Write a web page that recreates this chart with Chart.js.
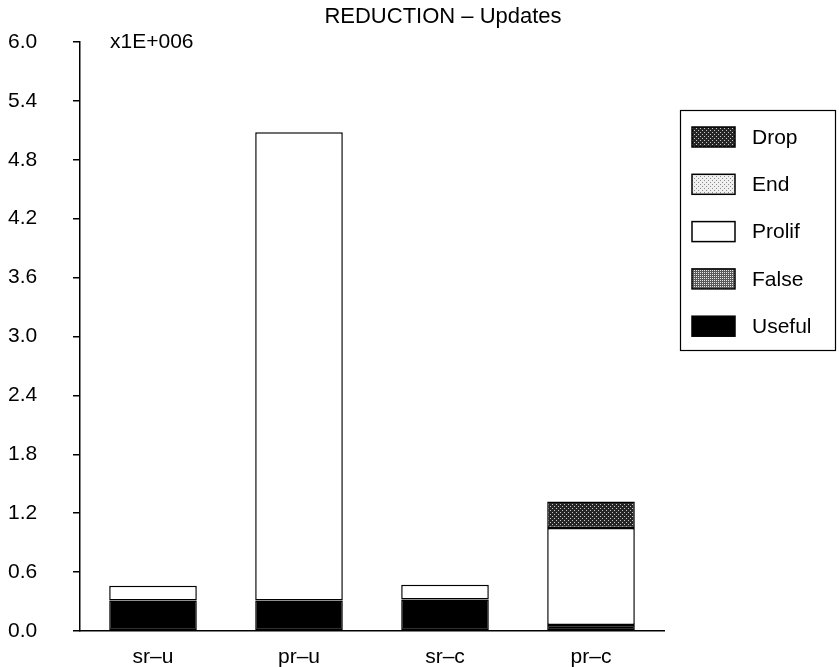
<!DOCTYPE html>
<html>
<head>
<meta charset="utf-8">
<script src="https://cdn.jsdelivr.net/npm/chart.js@4/dist/chart.umd.min.js"></script>
<style>
  html, body { margin: 0; padding: 0; background: #fff; }
  #wrap { width: 839px; height: 667px; }
</style>
</head>
<body>
<div id="wrap"><canvas id="c" width="839" height="667"></canvas></div>
<script>
// Update counts per configuration, in millions (axis multiplier x1E+006)
const categories = ['sr\u2013u', 'pr\u2013u', 'sr\u2013c', 'pr\u2013c'];
const useful = [0.31, 0.31, 0.32, 0.06];
const falseUpd = [0, 0, 0, 0];
const prolif = [0.15, 4.77, 0.15, 0.99];
const endUpd = [0, 0, 0, 0];
const drop = [0, 0, 0, 0.27];
const yTicks = [0.0, 0.6, 1.2, 1.8, 2.4, 3.0, 3.6, 4.2, 4.8, 5.4, 6.0];
const titleText = 'REDUCTION \u2013 Updates';
const multiplierText = 'x1E+006';

const FONT = '"Liberation Sans", Arial, Helvetica, sans-serif';

// Small dotted fills for the shaded categories
function stipple(bg, dot, positions) {
  const c = document.createElement('canvas');
  c.width = 4; c.height = 4;
  const g = c.getContext('2d');
  g.fillStyle = bg; g.fillRect(0, 0, 4, 4);
  g.fillStyle = dot;
  positions.forEach(([x, y]) => g.fillRect(x, y, 1, 1));
  return g.createPattern(c, 'repeat');
}
const ctx0 = document.getElementById('c').getContext('2d');
const dropFill = stipple('#262626', '#c8c8c8', [[0, 0], [2, 2]]);
const endFill = stipple('#f0f0f0', '#8a8a8a', [[0, 0], [2, 2]]);
const falseFill = stipple('#5a5a5a', '#e8e8e8', [[0, 0], [2, 2], [2, 0], [0, 2]]);

const datasets = [
  { label: 'Useful', data: useful, backgroundColor: '#000000' },
  { label: 'False', data: falseUpd, backgroundColor: falseFill },
  { label: 'Prolif', data: prolif, backgroundColor: '#ffffff' },
  { label: 'End', data: endUpd, backgroundColor: endFill },
  { label: 'Drop', data: drop, backgroundColor: dropFill }
].map(d => Object.assign(d, {
  borderColor: '#000',
  borderWidth: c => (c.raw === 0 ? 0 : 1.5),
  borderSkipped: false,
  barPercentage: 0.6, categoryPercentage: 1.0
}));

// Title, multiplier note and boxed legend
const decorations = {
  id: 'decorations',
  afterDraw(chart) {
    const ctx = chart.ctx;
    ctx.save();
    ctx.fillStyle = '#000';
    ctx.textBaseline = 'middle';
    ctx.font = '22px ' + FONT;
    ctx.textAlign = 'center';
    ctx.fillText(titleText, 443, 17);
    ctx.font = '21px ' + FONT;
    ctx.textAlign = 'left';
    ctx.fillText(multiplierText, 110, 42);

    // legend box
    const bx = 680, by = 110, bw = 155, bh = 240;
    ctx.lineWidth = 1.2;
    ctx.strokeStyle = '#000';
    ctx.strokeRect(bx + 0.5, by + 0.5, bw, bh);
    const items = chart.data.datasets.slice().reverse();
    items.forEach((ds, i) => {
      const cy = 137 + i * 47.3;
      ctx.fillStyle = ds.backgroundColor;
      ctx.fillRect(692, cy - 10, 43, 20);
      ctx.lineWidth = 1.5;
      ctx.strokeRect(692, cy - 10, 43, 20);
      ctx.fillStyle = '#000';
      ctx.font = '21px ' + FONT;
      ctx.fillText(ds.label, 752, cy + 1);
    });
    ctx.restore();
  }
};

new Chart(ctx0, {
  type: 'bar',
  data: { labels: categories, datasets },
  options: {
    responsive: false,
    animation: false,
    devicePixelRatio: 1,
    layout: { padding: { left: 8, right: 175, top: 42, bottom: 0 } },
    plugins: {
      legend: { display: false },
      title: { display: false },
      tooltip: { enabled: false }
    },
    scales: {
      x: {
        stacked: true,
        afterFit(scale) { scale.height = 36; },
        grid: { display: false, drawTicks: false },
        border: { display: true, color: '#000', width: 1.5 },
        ticks: { color: '#000', font: { family: FONT, size: 21 }, padding: 14, maxRotation: 0 }
      },
      y: {
        stacked: true,
        min: 0, max: 6,
        afterBuildTicks(scale) { scale.ticks = yTicks.map(v => ({ value: v })); },
        afterFit(scale) { scale.width = 72; },
        grid: { display: true, drawOnChartArea: false, drawTicks: true, tickLength: 7, color: '#000', lineWidth: 1.5 },
        border: { display: true, color: '#000', width: 1.5 },
        ticks: {
          color: '#000', font: { family: FONT, size: 21 }, padding: 0,
          crossAlign: 'far',
          callback: v => Number(v).toFixed(1)
        }
      }
    }
  },
  plugins: [decorations]
});
</script>
</body>
</html>
